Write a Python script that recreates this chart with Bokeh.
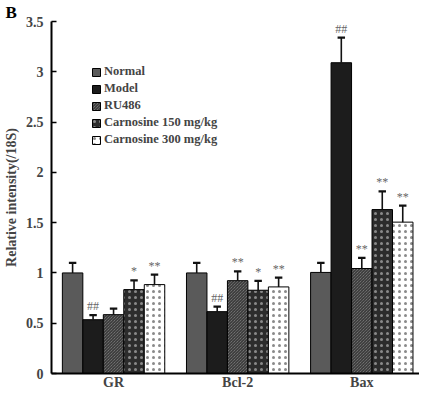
from bokeh.plotting import figure
from bokeh.models import ColumnDataSource, Range1d, FixedTicker, Legend, LegendItem, Title
from bokeh.core.properties import value
from bokeh.embed import file_html
from bokeh.resources import INLINE

genes = ["GR", "Bcl-2", "Bax"]
series = ["Normal", "Model", "RU486", "Carnosine 150 mg/kg", "Carnosine 300 mg/kg"]
means = {
    "Normal": [1.0, 1.0, 1.005],
    "Model": [0.535, 0.615, 3.09],
    "RU486": [0.585, 0.923, 1.044],
    "Carnosine 150 mg/kg": [0.834, 0.828, 1.63],
    "Carnosine 300 mg/kg": [0.884, 0.861, 1.505],
}
errors = {
    "Normal": [0.10, 0.10, 0.095],
    "Model": [0.045, 0.05, 0.25],
    "RU486": [0.06, 0.092, 0.106],
    "Carnosine 150 mg/kg": [0.092, 0.092, 0.18],
    "Carnosine 300 mg/kg": [0.10, 0.092, 0.165],
}
marks = {
    "Normal": ["", "", ""],
    "Model": ["##", "##", "##"],
    "RU486": ["", "**", "**"],
    "Carnosine 150 mg/kg": ["*", "*", "**"],
    "Carnosine 300 mg/kg": ["**", "**", "**"],
}
y_ticks = [0, 0.5, 1, 1.5, 2, 2.5, 3, 3.5]
y_tick_labels = ["0", "0.5", "1", "1.5", "2", "2.5", "3", "3.5"]

styles = {
    "Normal": dict(fill_color="#5a5a5a"),
    "Model": dict(fill_color="#1c1c1c"),
    "RU486": dict(fill_color="#8a8a8a", hatch_pattern="left_diagonal_line", hatch_color="#1a1a1a", hatch_scale=3, hatch_weight=0.9),
    "Carnosine 150 mg/kg": dict(fill_color="#2c2c2c", hatch_pattern="dot", hatch_color="#8a8a8a", hatch_scale=6, hatch_weight=0.5),
    "Carnosine 300 mg/kg": dict(fill_color="#ffffff", hatch_pattern="dot", hatch_color="#8a8a8a", hatch_scale=6, hatch_weight=0.5),
}

serif = "Liberation Serif"
H = 392
p = figure(width=419, height=H, output_backend="svg", toolbar_location=None,
           x_range=Range1d(0, 2.965), y_range=Range1d(0, 3.5),
           min_border_left=44, min_border_right=0, min_border_top=14, min_border_bottom=10)
p.outline_line_color = None
p.grid.visible = False
p.background_fill_color = "white"

bw = 0.165
items = []
for i, s in enumerate(series):
    xs = [g + 0.5 + (i - 2) * bw for g in range(len(genes))]
    tops = means[s]
    errs = [t + e for t, e in zip(tops, errors[s])]
    src = ColumnDataSource(dict(x=xs, top=tops, err=errs, mark=marks[s],
                                x0=[x - 0.03 for x in xs], x1=[x + 0.03 for x in xs]))
    r = p.vbar(x="x", top="top", width=bw, bottom=0, source=src, line_color="black", line_width=1, **styles[s])
    p.segment(x0="x", y0="top", x1="x", y1="err", source=src, line_color="#111111", line_width=1.6)
    p.segment(x0="x0", y0="err", x1="x1", y1="err", source=src, line_color="#111111", line_width=2.2)
    p.text(x="x", y="err", text="mark", source=src, text_align="center", text_baseline="bottom",
           y_offset=-2, text_font=value(serif), text_font_size="12px", text_color="#666666")
    items.append(LegendItem(label=s, renderers=[r]))

legend = Legend(items=items, location=(40, 226), padding=0, margin=0, spacing=2,
                glyph_width=10, glyph_height=10, label_height=12, label_standoff=3,
                label_text_font=serif, label_text_font_style="bold", label_text_font_size="12.5px",
                background_fill_alpha=0, border_line_color=None)
p.add_layout(legend)

p.xaxis.ticker = FixedTicker(ticks=[0.5, 1.5, 2.5])
p.xaxis.major_label_overrides = {0.5: genes[0], 1.5: genes[1], 2.5: genes[2]}
p.xaxis.major_tick_line_color = None
p.xaxis.major_tick_in = 0
p.xaxis.major_tick_out = 0
p.xaxis.minor_tick_line_color = None
p.xaxis.minor_tick_out = 0
p.xaxis.axis_line_width = 2
p.xaxis.major_label_standoff = 1
p.xaxis.axis_label_standoff = 0
p.xaxis.major_label_text_font = serif
p.xaxis.major_label_text_font_style = "bold"
p.xaxis.major_label_text_font_size = "14px"

p.yaxis.ticker = FixedTicker(ticks=y_ticks)
p.yaxis.major_label_overrides = {t: l for t, l in zip(y_ticks, y_tick_labels)}
p.yaxis.major_tick_in = 5
p.yaxis.major_tick_out = 0
p.yaxis.major_tick_line_width = 1.5
p.yaxis.minor_tick_line_color = None
p.yaxis.axis_line_width = 2
p.yaxis.major_label_standoff = 8
p.yaxis.major_label_text_font = serif
p.yaxis.major_label_text_font_style = "bold"
p.yaxis.major_label_text_font_size = "14px"
p.yaxis.axis_label = "Relative intensity(/18S)"
p.yaxis.axis_label_text_font = serif
p.yaxis.axis_label_text_font_style = "bold"
p.yaxis.axis_label_text_font_size = "14px"
p.yaxis.axis_label_standoff = 4

p.add_layout(Title(text="B", align="left", offset=-46, standoff=0, text_font=serif,
                   text_font_style="bold", text_font_size="17px", text_color="black"), "above")

open("out.html", "w").write(file_html(p, INLINE))
